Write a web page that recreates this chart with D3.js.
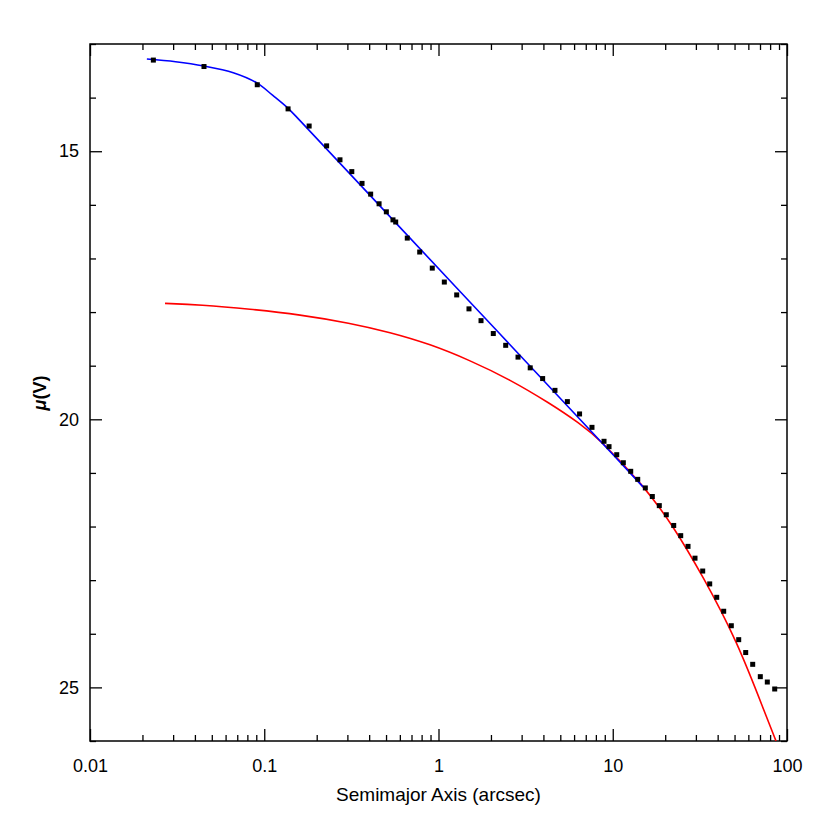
<!DOCTYPE html>
<html>
<head>
<meta charset="utf-8">
<script src="https://cdn.jsdelivr.net/npm/d3@7"></script>
<style>
  body { margin: 0; background: #fff; }
  text { font-family: "Liberation Sans", Arial, sans-serif; }
</style>
</head>
<body>
<div id="chart"></div>
<script>
// observed isophote points: semimajor axis (arcsec), surface brightness
var obsRadius = [0.0231, 0.0451, 0.0912, 0.137, 0.181, 0.228, 0.272, 0.318, 0.364, 0.408,
  0.456, 0.502, 0.548, 0.568, 0.662, 0.780, 0.921, 1.08, 1.272, 1.496,
  1.754, 2.063, 2.43, 2.86, 3.36, 3.96, 4.66, 5.49, 6.45, 7.60,
  8.91, 9.52, 10.54, 11.50, 12.68, 13.91, 15.38, 16.87, 18.50, 20.29,
  22.38, 24.55, 27.04, 29.65, 32.83, 36.01, 39.51, 43.32, 47.91, 52.83,
  57.94, 63.56, 70.28, 77.09, 85.0];
var obsMu = [13.30, 13.42, 13.76, 14.21, 14.53, 14.90, 15.16, 15.38, 15.60, 15.80,
  15.98, 16.13, 16.28, 16.32, 16.62, 16.88, 17.18, 17.44, 17.68, 17.94,
  18.16, 18.40, 18.62, 18.84, 19.04, 19.24, 19.46, 19.67, 19.90, 20.15,
  20.41, 20.51, 20.66, 20.81, 20.97, 21.12, 21.28, 21.44, 21.61, 21.78,
  21.98, 22.17, 22.37, 22.59, 22.83, 23.07, 23.32, 23.58, 23.85, 24.11,
  24.35, 24.57, 24.80, 24.90, 25.03];

// inner model (blue)
var innerRadius = [0.0212, 0.031, 0.0451, 0.0664, 0.0912, 0.112, 0.137, 0.1604, 0.601, 2.254, 8.45, 14.92];
var innerMu = [13.28, 13.33, 13.41, 13.535, 13.73, 13.96, 14.20, 14.43, 16.42, 18.41, 20.40, 21.26];

// outer model (red)
var outerRadius = [0.02695, 0.0428, 0.0828, 0.1604, 0.3105, 0.5269, 0.894, 1.517, 2.573, 4.364,
  6.49, 8.45, 14.92, 22.17, 32.96, 51.65, 76.8, 86.5];
var outerMu = [17.838, 17.864, 17.944, 18.047, 18.205, 18.377, 18.597, 18.901, 19.259, 19.703,
  20.080, 20.379, 21.224, 21.980, 22.931, 24.129, 25.580, 26.0];

var xMajor = [0.01, 0.1, 1, 10, 100];
var xLabels = ["0.01", "0.1", "1", "10", "100"];
var yMajor = [15, 20, 25];

var margin = { top: 44, right: 43, bottom: 89, left: 90 },
  width = 830 - margin.left - margin.right,
  height = 830 - margin.top - margin.bottom;

var svg = d3.select("#chart").append("svg")
  .attr("width", 830)
  .attr("height", 830);
var g = svg.append("g")
  .attr("transform", "translate(" + margin.left + "," + margin.top + ")");

var x = d3.scaleLog().domain([0.01, 100]).range([0, width]);
var y = d3.scaleLinear().domain([13, 26]).range([0, height]);

var xMinor = x.ticks().filter(function (v) { return xMajor.indexOf(v) < 0; });
var yMinor = d3.range(13, 27).filter(function (v) { return yMajor.indexOf(v) < 0; });

function styleAxis(sel) {
  sel.select(".domain").remove();
  sel.selectAll("line").attr("stroke", "#000").attr("stroke-width", 1.3);
  sel.selectAll("text").attr("fill", "#000").style("font-size", "18px");
}

// bottom axis
g.append("g").attr("transform", "translate(0," + height + ")")
  .call(d3.axisBottom(x).tickValues(xMajor).tickSize(-12).tickPadding(18)
    .tickFormat(function (d, i) { return xLabels[i]; }))
  .call(styleAxis);
g.append("g").attr("transform", "translate(0," + height + ")")
  .call(d3.axisBottom(x).tickValues(xMinor).tickSize(-6).tickFormat(""))
  .call(styleAxis);
// top axis
g.append("g")
  .call(d3.axisTop(x).tickValues(xMajor).tickSize(-12).tickFormat(""))
  .call(styleAxis);
g.append("g")
  .call(d3.axisTop(x).tickValues(xMinor).tickSize(-6).tickFormat(""))
  .call(styleAxis);
// left axis
g.append("g")
  .call(d3.axisLeft(y).tickValues(yMajor).tickSize(-12).tickPadding(11))
  .call(styleAxis);
g.append("g")
  .call(d3.axisLeft(y).tickValues(yMinor).tickSize(-6).tickFormat(""))
  .call(styleAxis);
// right axis
g.append("g").attr("transform", "translate(" + width + ",0)")
  .call(d3.axisRight(y).tickValues(yMajor).tickSize(-12).tickFormat(""))
  .call(styleAxis);
g.append("g").attr("transform", "translate(" + width + ",0)")
  .call(d3.axisRight(y).tickValues(yMinor).tickSize(-6).tickFormat(""))
  .call(styleAxis);

// frame
g.append("rect")
  .attr("width", width).attr("height", height)
  .attr("fill", "none").attr("stroke", "#000").attr("stroke-width", 1.5);

g.append("clipPath").attr("id", "clip")
  .append("rect").attr("width", width).attr("height", height);

var line = d3.line()
  .x(function (d) { return x(d[0]); })
  .y(function (d) { return y(d[1]); })
  .curve(d3.curveCatmullRom.alpha(0.5));

g.append("path")
  .datum(d3.zip(outerRadius, outerMu))
  .attr("clip-path", "url(#clip)")
  .attr("fill", "none").attr("stroke", "#ff0000").attr("stroke-width", 1.6)
  .attr("d", line.curve(d3.curveBasis));

g.append("path")
  .datum(d3.zip(innerRadius, innerMu))
  .attr("fill", "none").attr("stroke", "#0000ff").attr("stroke-width", 1.6)
  .attr("d", line.curve(d3.curveCatmullRom.alpha(0.5)));

// points
g.append("g")
  .selectAll("rect")
  .data(d3.zip(obsRadius, obsMu))
  .enter()
  .append("rect")
  .attr("x", function (d) { return x(d[0]) - 2.5; })
  .attr("y", function (d) { return y(d[1]) - 2.5; })
  .attr("width", 5).attr("height", 5)
  .attr("fill", "#000");

// axis titles
svg.append("text")
  .attr("x", margin.left + width / 2)
  .attr("y", 801)
  .attr("text-anchor", "middle")
  .style("font-size", "19px")
  .text("Semimajor Axis (arcsec)");

svg.append("text")
  .attr("transform", "translate(46,393) rotate(-90)")
  .attr("text-anchor", "middle")
  .style("font-size", "18px")
  .style("font-weight", "bold")
  .html('<tspan font-style="italic">μ</tspan>(V)');
</script>
</body>
</html>
